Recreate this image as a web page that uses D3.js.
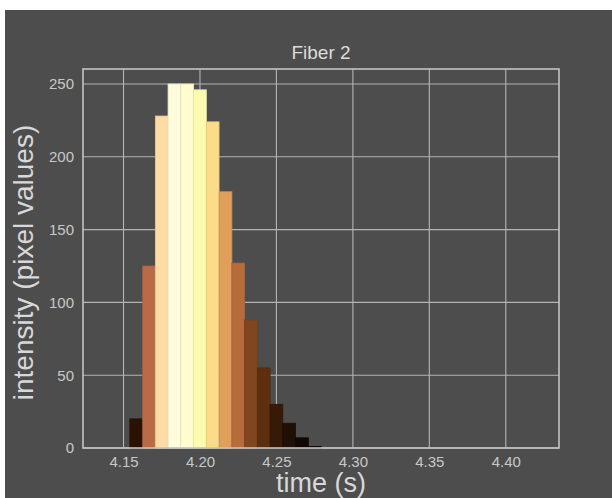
<!DOCTYPE html>
<html><head><meta charset="utf-8">
<script src="https://cdn.jsdelivr.net/npm/d3@7"></script>
<style>html,body{margin:0;padding:0;background:#fff;}svg{display:block;}</style>
</head><body>
<svg id="chart" width="612" height="498"></svg>
<script>
// ---- data ----
const times = [4.1583, 4.1667, 4.1750, 4.1833, 4.1917, 4.2000, 4.2083, 4.2167, 4.2250, 4.2333, 4.2417, 4.2500, 4.2583, 4.2667, 4.2750];
const intensity = [20, 125, 228, 250, 250, 246, 224, 176, 127, 88, 55, 30, 17, 7, 1];
const barColors = ["#2b1100", "#b96b47", "#fddba5", "#fdfcdc", "#fffdd0", "#fcfcb0", "#fcdc88", "#e0a05c", "#b96c3b", "#80461f", "#5d2f0f", "#361a07", "#1e1005", "#110801", "#050200"];
const xTicks = [4.15, 4.20, 4.25, 4.30, 4.35, 4.40];
const yTicks = [0, 50, 100, 150, 200, 250];
const frameWidth = 1 / 120;
const title = "Fiber 2";
const xLabel = "time (s)";
const yLabel = "intensity (pixel values)";

// ---- layout ----
const svg = d3.select("#chart");
const L = 83, R = 559, T = 69, B = 448;
const x = d3.scaleLinear().domain([4.1235, 4.4348]).range([L, R]);
const y = d3.scaleLinear().domain([0, 260.3]).range([B, T]);
const font = "'Liberation Sans', Arial, sans-serif";

svg.append("rect").attr("x", 5).attr("y", 10).attr("width", 607).attr("height", 488).attr("fill", "#4d4d4d");

// grid
const grid = svg.append("g");
grid.selectAll(".gx").data(xTicks).join("line")
  .attr("x1", d => x(d)).attr("x2", d => x(d)).attr("y1", T).attr("y2", B)
  .attr("stroke", "#b4b4b4").attr("stroke-width", 1.1);
grid.selectAll(".gy").data(yTicks).join("line")
  .attr("x1", L).attr("x2", R).attr("y1", d => y(d)).attr("y2", d => y(d))
  .attr("stroke", "#b4b4b4").attr("stroke-width", 1.1);

// bars
svg.append("g").selectAll("rect").data(times).join("rect")
  .attr("x", (d) => x(d - frameWidth / 2))
  .attr("width", (d) => x(d + frameWidth / 2) - x(d - frameWidth / 2))
  .attr("y", (d, i) => y(intensity[i]))
  .attr("height", (d, i) => y(0) - y(intensity[i]))
  .attr("fill", (d, i) => barColors[i])
  .attr("stroke", (d, i) => d3.color(barColors[i]).darker(0.25))
  .attr("stroke-width", 0.8);

// spines
svg.append("rect").attr("x", L).attr("y", T).attr("width", R - L).attr("height", B - T)
  .attr("fill", "none").attr("stroke", "#c4c4c4").attr("stroke-width", 1.6);

// axes (labels only, no tick marks)
const xAxis = d3.axisBottom(x).tickValues(xTicks).tickFormat(d3.format(".2f")).tickSize(0).tickPadding(8);
const gx = svg.append("g").attr("transform", `translate(0,${B})`).call(xAxis);
gx.select(".domain").remove();
gx.selectAll("text").attr("fill", "#c8c8c8").attr("font-size", "15px").attr("font-family", font);

const yAxis = d3.axisLeft(y).tickValues(yTicks).tickFormat(d3.format("d")).tickSize(0).tickPadding(9);
const gy = svg.append("g").attr("transform", `translate(${L},0)`).call(yAxis);
gy.select(".domain").remove();
gy.selectAll("text").attr("fill", "#c8c8c8").attr("font-size", "15px").attr("font-family", font);

// title and labels
svg.append("text").attr("x", (L + R) / 2).attr("y", 59).attr("text-anchor", "middle")
  .attr("fill", "#dcdcdc").attr("font-size", "19px").attr("font-family", font).text(title);
svg.append("text").attr("x", (L + R) / 2).attr("y", 492).attr("text-anchor", "middle")
  .attr("fill", "#d8d8d8").attr("font-size", "27px").attr("font-family", font).text(xLabel);
svg.append("text").attr("transform", `translate(33,${(T + B) / 2 + 4}) rotate(-90)`).attr("text-anchor", "middle")
  .attr("fill", "#d8d8d8").attr("font-size", "28px").attr("font-family", font).text(yLabel);
</script>
</body></html>
